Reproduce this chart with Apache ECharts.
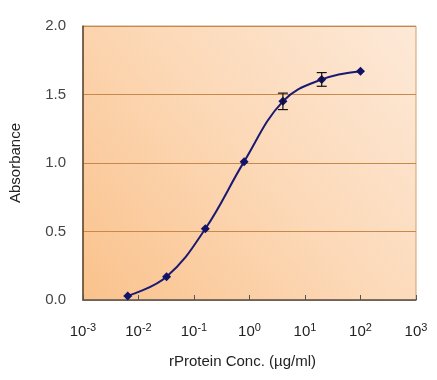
<!DOCTYPE html>
<html>
<head>
<meta charset="utf-8">
<script src="https://cdn.jsdelivr.net/npm/echarts@6/dist/echarts.min.js"></script>
<style>html,body{margin:0;padding:0;background:#fff;}#c{width:437px;height:380px;}</style>
</head>
<body>
<div id="c"></div>
<script>
const conc = [0.0064, 0.032, 0.16, 0.8, 4, 20, 100];
const absorbance = [0.03, 0.17, 0.52, 1.01, 1.45, 1.61, 1.67];
const sd = [0, 0, 0, 0, 0.06, 0.05, 0];
const yTicks = [0, 0.5, 1.0, 1.5, 2.0];
const xName = 'rProtein Conc. (\u00b5g/ml)';
const yName = 'Absorbance';

const chart = echarts.init(document.getElementById('c'), null, {renderer: 'canvas'});
const lineData = conc.map((c, i) => [c, absorbance[i]]);
const errData = conc.map((c, i) => [c, absorbance[i] - sd[i], absorbance[i] + sd[i]]).filter((d, i) => sd[i] > 0);

chart.setOption({
  animation: false,
  backgroundColor: '#ffffff',
  grid: {
    left: 83, right: 21, top: 26, bottom: 80,
    show: true,
    borderColor: '#C9A274',
    borderWidth: 1,
    backgroundColor: new echarts.graphic.LinearGradient(0, 1, 1, 0, [
      {offset: 0, color: '#FAC28C'},
      {offset: 0.5, color: '#FCD8B6'},
      {offset: 1, color: '#FDE9D8'}
    ])
  },
  xAxis: {
    type: 'log', logBase: 10, min: 0.001, max: 1000,
    name: xName, nameLocation: 'middle', nameGap: 54,
    nameTextStyle: {fontFamily: 'Liberation Sans, Arial', fontSize: 15, color: '#222', padding: [0, 14, 0, 0]},
    axisLine: {show: true, lineStyle: {color: '#555', width: 1.5}},
    axisTick: {show: true, inside: true, length: 5, lineStyle: {color: '#555'}},
    splitLine: {show: false},
    axisLabel: {
      margin: 22,
      formatter: function (v) {
        const e = Math.round(Math.log10(v));
        return '{b|10}{s|' + e + '}';
      },
      rich: {
        b: {fontFamily: 'Liberation Sans, Arial', fontSize: 15, color: '#222'},
        s: {fontFamily: 'Liberation Sans, Arial', fontSize: 11, color: '#222', padding: [0, 0, 9, 0]}
      }
    }
  },
  yAxis: {
    type: 'value', min: 0, max: 2, interval: 0.5,
    name: yName, nameLocation: 'middle', nameGap: 60, nameRotate: 90,
    nameTextStyle: {fontFamily: 'Liberation Sans, Arial', fontSize: 15, color: '#222'},
    axisLine: {show: true, lineStyle: {color: '#5a4330', width: 1.5}},
    axisTick: {show: false},
    splitLine: {show: true, lineStyle: {color: '#C8884C', width: 1}},
    axisLabel: {
      margin: 17,
      fontFamily: 'Liberation Sans, Arial', fontSize: 15, color: '#444',
      formatter: v => v.toFixed(1)
    }
  },
  series: [
    {
      type: 'line',
      data: lineData,
      smooth: 0.4,
      symbol: 'diamond',
      symbolSize: 9,
      lineStyle: {color: '#1a1a72', width: 2},
      itemStyle: {color: '#121268'},
      z: 3
    },
    {
      type: 'custom',
      data: errData,
      z: 4,
      renderItem: function (params, api) {
        const x = api.value(0);
        const lo = api.coord([x, api.value(1)]);
        const hi = api.coord([x, api.value(2)]);
        const w = 5;
        const st = {stroke: '#111', lineWidth: 1.2};
        return {
          type: 'group',
          children: [
            {type: 'line', shape: {x1: lo[0], y1: lo[1], x2: hi[0], y2: hi[1]}, style: st},
            {type: 'line', shape: {x1: lo[0] - w, y1: lo[1], x2: lo[0] + w, y2: lo[1]}, style: st},
            {type: 'line', shape: {x1: hi[0] - w, y1: hi[1], x2: hi[0] + w, y2: hi[1]}, style: st}
          ]
        };
      }
    }
  ]
});
</script>
</body>
</html>
